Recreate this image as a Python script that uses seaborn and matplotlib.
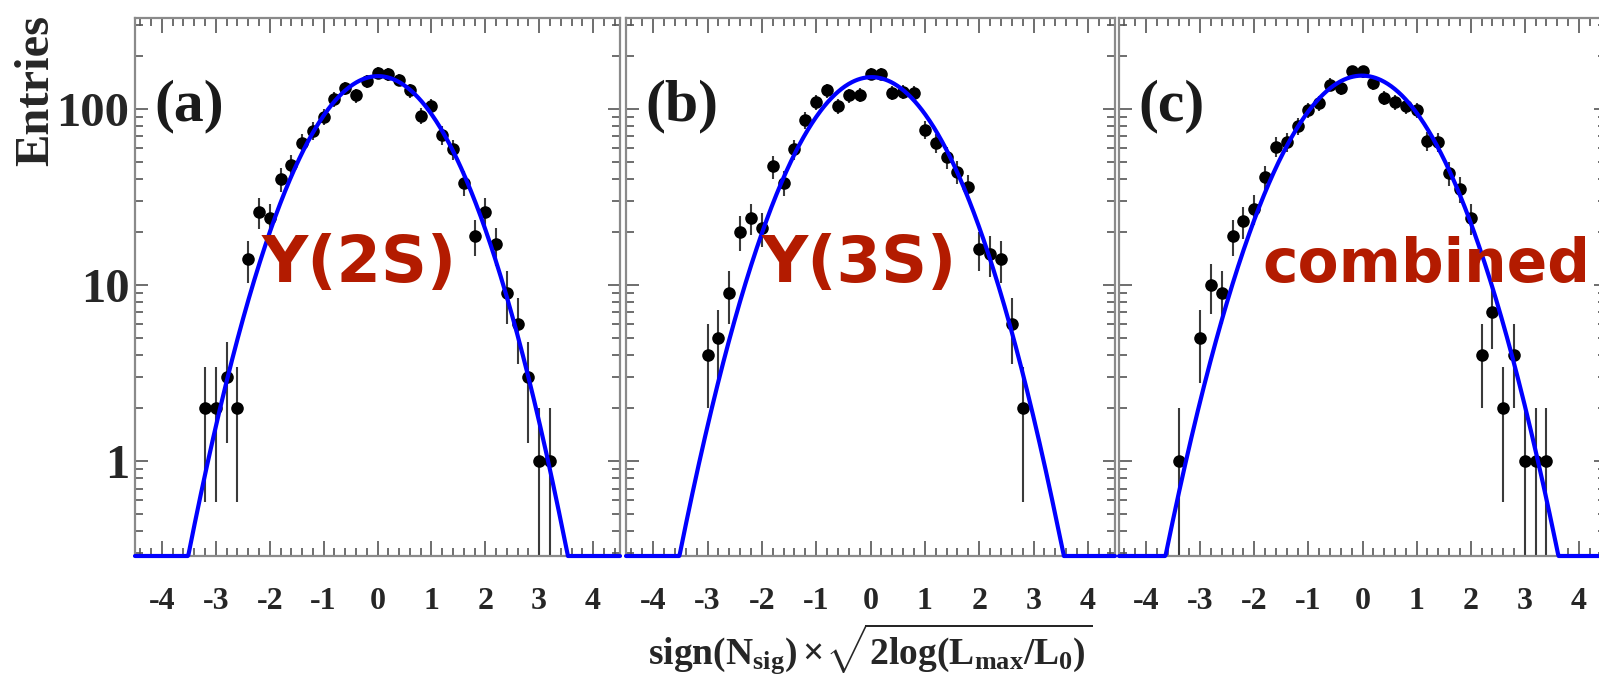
import numpy as np
import pandas as pd
import matplotlib
matplotlib.use("Agg")
import matplotlib.pyplot as plt
import seaborn as sns
from matplotlib.ticker import FixedLocator, MultipleLocator, LogLocator, NullFormatter, FixedFormatter

# bin centres and entries
bins_2s = [-3.2, -3.0, -2.8, -2.6, -2.4, -2.2, -2.0, -1.8, -1.6, -1.4, -1.2, -1.0, -0.8,
           -0.6, -0.4, -0.2, 0.0, 0.2, 0.4, 0.6, 0.8, 1.0, 1.2, 1.4, 1.6, 1.8, 2.0, 2.2,
           2.4, 2.6, 2.8, 3.0, 3.2]
entries_2s = [2, 2, 3, 2, 14, 26, 24, 40, 48, 64, 75, 90, 113,
              131, 119, 143, 160, 157, 146, 127, 91, 103, 71, 59, 38, 19, 26, 17,
              9, 6, 3, 1, 1]

bins_3s = [-3.0, -2.8, -2.6, -2.4, -2.2, -2.0, -1.8, -1.6, -1.4, -1.2, -1.0, -0.8, -0.6,
           -0.4, -0.2, 0.0, 0.2, 0.4, 0.6, 0.8, 1.0, 1.2, 1.4, 1.6, 1.8, 2.0, 2.2, 2.4,
           2.6, 2.8]
entries_3s = [4, 5, 9, 20, 24, 21, 47, 38, 59, 86, 109, 127, 104,
              119, 120, 158, 158, 123, 125, 123, 76, 64, 53, 44, 36, 16, 15, 14,
              6, 2]

bins_comb = [-3.4, -3.0, -2.8, -2.6, -2.4, -2.2, -2.0, -1.8, -1.6, -1.4, -1.2, -1.0, -0.8,
             -0.6, -0.4, -0.2, 0.0, 0.2, 0.4, 0.6, 0.8, 1.0, 1.2, 1.4, 1.6, 1.8, 2.0,
             2.2, 2.4, 2.6, 2.8, 3.0, 3.2, 3.4]
entries_comb = [1, 5, 10, 9, 19, 23, 27, 41, 61, 65, 80, 98, 108,
                137, 131, 163, 163, 140, 115, 109, 104, 98, 66, 65, 43, 35, 24,
                4, 7, 2, 4, 1, 1, 1]

# gaussian fit of each panel: amplitude, mean, sigma
fit_2s = (153, 0.01, 0.995)
fit_3s = (151, 0.02, 1.0)
fit_comb = (154, -0.01, 1.025)

panel_tags = ["(a)", "(b)", "(c)"]
panel_names = ["Υ(2S)", "Υ(3S)", "combined"]
name_xpos = [0.463, 0.477, 0.632]
name_size = [46, 46, 43]

xticks = [-4, -3, -2, -1, 0, 1, 2, 3, 4]
yticks = [1, 10, 100]
ytick_labels = ["1", "10", "100"]
YMIN, YMAX = 0.29, 327

sns.set_style("ticks")
plt.rcParams["font.family"] = ["Liberation Serif", "DejaVu Serif"]
plt.rcParams["font.weight"] = "bold"
plt.rcParams["mathtext.fontset"] = "custom"
plt.rcParams["mathtext.rm"] = "Liberation Serif:bold"
plt.rcParams["mathtext.it"] = "Liberation Serif:bold"
plt.rcParams["mathtext.bf"] = "Liberation Serif:bold"

W, H = 1599, 675
fig = plt.figure(figsize=(W / 100, H / 100), dpi=100)

# panel frames in pixels (left, right)
frames = [(135, 620), (626, 1115), (1119, 1606)]
top, bottom = 18, 556


def draw_panel(ax, bins, entries, fit, tag, name, name_x, name_fs, first):
    df = pd.DataFrame({"x": bins, "n": entries})
    err = np.sqrt(df["n"])
    low = np.minimum(err, df["n"] - 1e-3)
    ax.set_yscale("log")
    ax.errorbar(df["x"], df["n"], yerr=[low, err], fmt="none", ecolor="#3a3a3a",
                elinewidth=1.5, capsize=0, zorder=2)
    sns.scatterplot(data=df, x="x", y="n", ax=ax, color="black", s=82,
                    linewidth=0, zorder=3)

    amp, mu, sig = fit
    xs = np.linspace(-4.5, 4.5, 700)
    ys = np.maximum(amp * np.exp(-0.5 * ((xs - mu) / sig) ** 2), YMIN)
    curve = pd.DataFrame({"x": xs, "y": ys})
    sns.lineplot(data=curve, x="x", y="y", ax=ax, color="#0000ff", lw=3,
                 zorder=4, clip_on=False)

    ax.set_xlim(-4.5, 4.5)
    ax.set_ylim(YMIN, YMAX)
    ax.set_xlabel("")
    ax.set_ylabel("")

    ax.xaxis.set_major_locator(FixedLocator(xticks))
    ax.xaxis.set_major_formatter(FixedFormatter([str(t) for t in xticks]))
    ax.xaxis.set_minor_locator(MultipleLocator(0.2))
    ax.yaxis.set_major_locator(FixedLocator(yticks))
    ax.yaxis.set_minor_locator(LogLocator(base=10, subs=np.arange(2, 10)))
    ax.yaxis.set_minor_formatter(NullFormatter())
    if first:
        ax.yaxis.set_major_formatter(FixedFormatter(ytick_labels))
    else:
        ax.yaxis.set_major_formatter(NullFormatter())

    ax.tick_params(axis="both", which="both", direction="in", top=True, right=True,
                   color="#555555", width=1.2)
    ax.tick_params(axis="x", which="major", length=11, labelsize=23, pad=22)
    ax.tick_params(axis="x", which="minor", length=6)
    ax.tick_params(axis="y", which="major", length=9, labelsize=35, pad=4)
    ax.tick_params(axis="y", which="minor", length=6)

    for sp in ax.spines.values():
        sp.set_color("#8a8a8a")
        sp.set_linewidth(1.6)

    ax.text(0.04, 0.835, tag, transform=ax.transAxes, fontsize=43,
            fontweight="bold", color="#1a1a1a", ha="left", va="center")
    ax.text(name_x, 0.51, name, transform=ax.transAxes, fontsize=name_fs,
            fontweight="bold", color="#b31b00", ha="center", va="baseline",
            family="DejaVu Sans", zorder=5)


all_bins = [bins_2s, bins_3s, bins_comb]
all_entries = [entries_2s, entries_3s, entries_comb]
all_fits = [fit_2s, fit_3s, fit_comb]

axes = []
for i in range(3):
    left, right = frames[i]
    ax = fig.add_axes([left / W, 1 - bottom / H, (right - left) / W, (bottom - top) / H])
    draw_panel(ax, all_bins[i], all_entries[i], all_fits[i], panel_tags[i],
               panel_names[i], name_xpos[i], name_size[i], i == 0)
    axes.append(ax)

fig.text(36 / W, 1 - 15 / H, "Entries", rotation=90, fontsize=35,
         fontweight="bold", ha="center", va="top")

axes[1].text(0.5, -0.122, r"$\mathrm{sign(N_{sig})}\times\!\sqrt{\mathrm{2log(L_{max}/L_{0})}}$",
             transform=axes[1].transAxes, fontsize=27, ha="center", va="top")

fig.savefig("out.png", dpi=100)
